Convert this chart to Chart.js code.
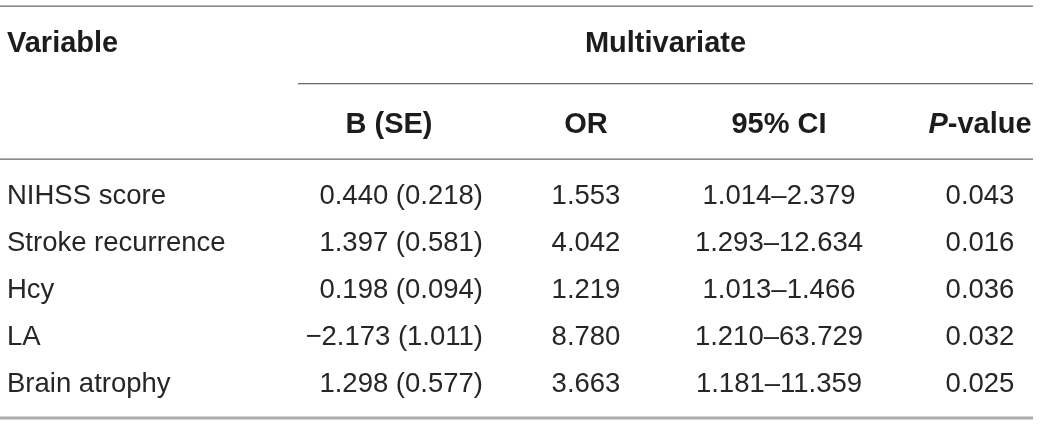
<!DOCTYPE html>
<html>
<head>
<meta charset="utf-8">
<script src="https://cdn.jsdelivr.net/npm/chart.js@4.4.1/dist/chart.umd.min.js"></script>
<style>
  body { margin: 0; background: #fff; }
  #wrap { width: 1040px; height: 425px; position: relative; }
</style>
</head>
<body>
<div id="wrap"><canvas id="tableChart"></canvas></div>
<script>
// table values
var variables = ['NIHSS score', 'Stroke recurrence', 'Hcy', 'LA', 'Brain atrophy'];
var columns   = ['B (SE)', 'OR', '95% CI', 'P-value'];
var bValues   = [0.440, 1.397, 0.198, -2.173, 1.298];
var seValues  = [0.218, 0.581, 0.094, 1.011, 0.577];
var orValues  = [1.553, 4.042, 1.219, 8.780, 3.663];
var ciLow     = [1.014, 1.293, 1.013, 1.210, 1.181];
var ciHigh    = [2.379, 12.634, 1.466, 63.729, 11.359];
var pValues   = [0.043, 0.016, 0.036, 0.032, 0.025];

var FONT = '"Liberation Sans", Arial, Helvetica, sans-serif';
var SIZE = 27.5;
var BOLD = 29;
var TEXT = '#262626';

function fmt(v) {
  return (v < 0 ? '\u2212' : '') + Math.abs(v).toFixed(3);
}

var cellText = [
  bValues.map(function (b, i) { return fmt(b) + ' (' + fmt(seValues[i]) + ')'; }),
  orValues.map(fmt),
  ciLow.map(function (lo, i) { return fmt(lo) + '\u2013' + fmt(ciHigh[i]); }),
  pValues.map(fmt)
];

// how each column sits around its tick
var colStyle = [
  { align: 'right', dx: 94 },
  { align: 'center', dx: 0 },
  { align: 'center', dx: -4 },
  { align: 'center', dx: 0 }
];

var tablePlugin = {
  id: 'tableText',
  afterDatasetsDraw: function (chart) {
    var ctx = chart.ctx;
    var area = chart.chartArea;
    var x = chart.scales.x;
    var w = chart.width;

    ctx.save();
    // rules
    ctx.fillStyle = '#6e6e6e';
    ctx.fillRect(0, area.top - 167, w - 7, 1.3);
    ctx.fillRect(area.left - 91, area.top - 89.5, w - 7 - (area.left - 91), 1.3);
    ctx.fillRect(0, area.top - 14, w - 7, 1.3);
    ctx.fillStyle = '#ababab';
    ctx.fillRect(0, area.bottom + 8, w - 7, 3);

    // header texts
    ctx.textBaseline = 'middle';
    ctx.fillStyle = '#1c1c1c';
    ctx.font = 'bold ' + BOLD + 'px ' + FONT;
    ctx.textAlign = 'left';
    ctx.fillText('Variable', 7, area.top - 129);
    ctx.textAlign = 'center';
    ctx.fillText('Multivariate', ((area.left - 91) + (w - 7)) / 2, area.top - 129);

    columns.forEach(function (c, i) {
      var cx = x.getPixelForValue(i) + (i === 0 ? 0 : colStyle[i].dx);
      var hy = area.top - 48;
      if (c === 'P-value') {
        ctx.font = 'italic bold ' + BOLD + 'px ' + FONT;
        var pw = ctx.measureText('P').width;
        ctx.font = 'bold ' + BOLD + 'px ' + FONT;
        var rw = ctx.measureText('-value').width;
        var left = cx - (pw + rw) / 2;
        ctx.textAlign = 'left';
        ctx.font = 'italic bold ' + BOLD + 'px ' + FONT;
        ctx.fillText('P', left, hy);
        ctx.font = 'bold ' + BOLD + 'px ' + FONT;
        ctx.fillText('-value', left + pw, hy);
      } else {
        ctx.textAlign = 'center';
        ctx.font = 'bold ' + BOLD + 'px ' + FONT;
        ctx.fillText(c, cx, hy);
      }
    });

    // body cells, placed on each point of the dataset
    ctx.font = SIZE + 'px ' + FONT;
    ctx.fillStyle = TEXT;
    chart.data.datasets.forEach(function (ds, di) {
      var meta = chart.getDatasetMeta(di);
      meta.data.forEach(function (pt, i) {
        ctx.textAlign = colStyle[di].align;
        ctx.fillText(cellText[di][i], pt.x + colStyle[di].dx, pt.y);
      });
    });
    ctx.restore();
  }
};

var datasets = columns.map(function (c) {
  return {
    label: c,
    data: variables.map(function (v) { return { x: c, y: v }; }),
    pointRadius: 0,
    pointHoverRadius: 0
  };
});

var chart = new Chart(document.getElementById('tableChart').getContext('2d'), {
  type: 'scatter',
  data: { datasets: datasets },
  options: {
    responsive: true,
    maintainAspectRatio: false,
    animation: false,
    events: [],
    layout: { padding: { left: 7, right: 60, top: 172.5, bottom: 15.5 } },
    plugins: {
      legend: { display: false },
      tooltip: { enabled: false }
    },
    scales: {
      x: {
        type: 'category',
        labels: columns,
        offset: false,
        display: false
      },
      y: {
        type: 'category',
        labels: variables,
        offset: true,
        grid: { display: false },
        border: { display: false },
        ticks: {
          autoSkip: false,
          crossAlign: 'far',
          padding: 0,
          color: TEXT,
          font: { family: FONT, size: SIZE }
        },
        afterFit: function (scale) { scale.width = 382; }
      }
    }
  },
  plugins: [tablePlugin]
});
</script>
</body>
</html>
